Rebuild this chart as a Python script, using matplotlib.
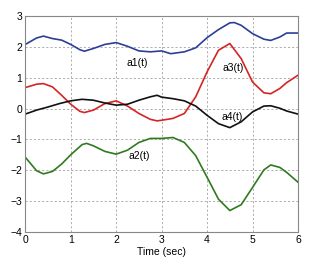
import matplotlib.pyplot as plt

plt.rcParams["font.family"] = ["Liberation Sans", "DejaVu Sans"]

t1 = [0, 0.25, 0.4, 0.6, 0.8, 1.0, 1.2, 1.3, 1.5, 1.75, 2.0, 2.25, 2.5, 2.75, 3.0, 3.2,
      3.5, 3.75, 4.0, 4.25, 4.5, 4.6, 4.75, 5.0, 5.25, 5.4, 5.6, 5.75, 6.0]
a1 = [2.08, 2.29, 2.35, 2.27, 2.22, 2.08, 1.91, 1.86, 1.95, 2.08, 2.14, 2.02, 1.87, 1.84,
      1.87, 1.78, 1.84, 1.97, 2.30, 2.56, 2.78, 2.79, 2.70, 2.43, 2.25, 2.21, 2.32, 2.45, 2.45]

t3 = [0, 0.25, 0.4, 0.6, 0.8, 1.0, 1.2, 1.3, 1.5, 1.75, 2.0, 2.25, 2.5, 2.75, 2.9, 3.0,
      3.25, 3.5, 3.75, 4.0, 4.25, 4.5, 4.75, 5.0, 5.25, 5.4, 5.6, 5.75, 6.0]
a3 = [0.68, 0.79, 0.81, 0.70, 0.43, 0.14, -0.09, -0.13, -0.05, 0.16, 0.25, 0.08, -0.16,
      -0.35, -0.40, -0.38, -0.32, -0.16, 0.38, 1.19, 1.89, 2.11, 1.62, 0.86, 0.51, 0.48,
      0.65, 0.84, 1.08]

t4 = [0, 0.25, 0.5, 0.75, 1.0, 1.25, 1.5, 1.75, 2.0, 2.25, 2.5, 2.75, 2.9, 3.0, 3.25,
      3.5, 3.75, 4.0, 4.25, 4.5, 4.75, 5.0, 5.25, 5.4, 5.6, 5.75, 6.0]
a4 = [-0.18, -0.05, 0.05, 0.16, 0.25, 0.30, 0.27, 0.18, 0.11, 0.14, 0.27, 0.38, 0.43,
      0.37, 0.32, 0.25, 0.08, -0.22, -0.49, -0.62, -0.43, -0.11, 0.08, 0.09, 0.01, -0.08,
      -0.18]

t2 = [0, 0.25, 0.4, 0.6, 0.8, 1.0, 1.25, 1.35, 1.5, 1.75, 2.0, 2.25, 2.5, 2.75, 3.0,
      3.25, 3.5, 3.75, 4.0, 4.25, 4.5, 4.75, 5.0, 5.25, 5.4, 5.6, 5.75, 6.0]
a2 = [-1.58, -2.02, -2.12, -2.04, -1.80, -1.50, -1.17, -1.13, -1.21, -1.39, -1.48, -1.35,
      -1.10, -0.97, -0.97, -0.94, -1.10, -1.53, -2.23, -2.94, -3.31, -3.12, -2.56, -1.99,
      -1.83, -1.91, -2.07, -2.39]

rotulos = ["a1(t)", "a2(t)", "a3(t)", "a4(t)"]
rotulo_x = [2.46, 2.51, 4.57, 4.56]
rotulo_y = [1.47, -1.55, 1.31, -0.28]

fig = plt.figure(figsize=(3.16, 2.68), dpi=100)
ax = fig.add_axes([0.080, 0.135, 0.863, 0.805])

ax.plot(t1, a1, color="#2b3f96", lw=1.2)
ax.plot(t2, a2, color="#2f7a1f", lw=1.2)
ax.plot(t3, a3, color="#d42424", lw=1.2)
ax.plot(t4, a4, color="#111111", lw=1.2)

for txt, x, y in zip(rotulos, rotulo_x, rotulo_y):
    ax.text(x, y, txt, fontsize=7.5, ha="center", va="center")

ax.set_xlim(0, 6)
ax.set_ylim(-4, 3)
ax.set_xticks(range(0, 7))
ax.set_yticks(range(-4, 4))
ax.tick_params(length=0, labelsize=7.5, pad=2)
ax.grid(True, linestyle=(0, (2.5, 2.5)), color="#a0a0a0", lw=0.6)
for s in ax.spines.values():
    s.set_color("#888888")
    s.set_linewidth(0.8)
ax.set_xlabel("Time (sec)", fontsize=7.5, labelpad=2)

plt.savefig("out.png", dpi=100)
